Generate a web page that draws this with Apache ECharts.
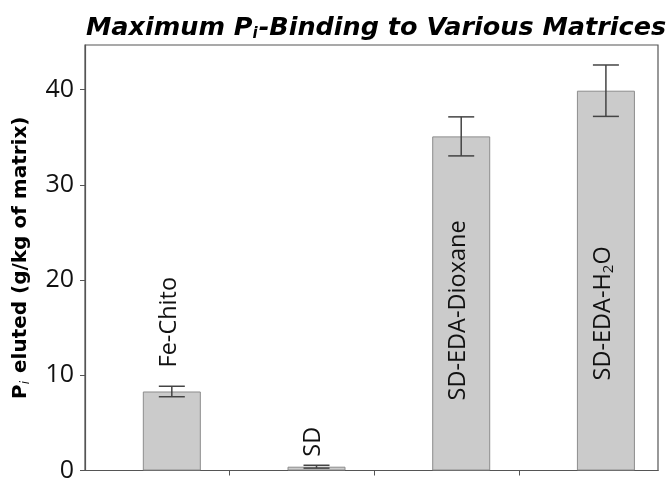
<!DOCTYPE html>
<html><head><meta charset="utf-8">
<script src="https://cdn.jsdelivr.net/npm/echarts@6/dist/echarts.min.js"></script>
<style>html,body{margin:0;padding:0;background:#fff}#c{width:668px;height:483px}</style>
</head><body><div id="c"></div>
<script>
const categories = ['Fe-Chito', 'SD', 'SD-EDA-Dioxane', 'SD-EDA-H2O'];
const labelTexts = ['Fe-Chito', 'SD', 'SD-EDA-Dioxane', 'SD-EDA-H{sub|2}O'];
const values = [8.3, 0.4, 35.1, 39.9];
const errors = [0.55, 0.15, 2.05, 2.7];
const yTicks = [0, 10, 20, 30, 40];
const xTicks = [0.4, 1.4, 2.4];

const FONT = 'DejaVu Sans';
const LFONT = 'Open Sans';
const labelStyle = [
  {position: 'top', distance: 24},
  {position: 'top', distance: 10},
  {position: 'insideBottom', distance: 70},
  {position: 'insideBottom', distance: 90}
];

const chart = echarts.init(document.getElementById('c'), null, {renderer: 'canvas'});
const option = {
  animation: false,
  backgroundColor: '#fff',
  title: {
    text: '{a|Maximum P}{s|i}{a|-Binding to Various Matrices}',
    left: 371, top: 9, textAlign: 'center',
    textStyle: {
      rich: {
        a: {fontFamily: FONT, fontWeight: 'bold', fontStyle: 'italic', fontSize: 25.5, color: '#000'},
        s: {fontFamily: FONT, fontStyle: 'italic', fontSize: 15, color: '#000', padding: [13, 1, 0, 0]}
      }
    }
  },
  grid: {left: 85, right: 10, top: 45, bottom: 9, show: true, borderColor: '#555', borderWidth: 1.2},
  xAxis: {
    type: 'value', min: -0.6, max: 3.36,
    axisLine: {show: true, onZero: false, lineStyle: {color: '#555', width: 1.2}},
    axisTick: {show: true, length: 5, customValues: xTicks, lineStyle: {color: '#555'}},
    axisLabel: {show: false},
    splitLine: {show: false}
  },
  yAxis: {
    type: 'value', min: 0, max: 44.7,
    name: '{b|P}{s|i}{b| eluted (g/kg of matrix)}',
    nameLocation: 'middle', nameGap: 53, nameRotate: 90,
    nameTextStyle: {
      rich: {
        b: {fontFamily: FONT, fontWeight: 'bold', fontSize: 20, color: '#000'},
        s: {fontFamily: FONT, fontStyle: 'italic', fontSize: 12, color: '#000', padding: [10, 1, 0, 0]}
      }
    },
    axisLine: {show: true, onZero: false, lineStyle: {color: '#555', width: 1.2}},
    axisTick: {show: true, length: 5, customValues: yTicks, lineStyle: {color: '#555'}},
    axisLabel: {customValues: yTicks, fontFamily: LFONT, fontSize: 25, color: '#111', margin: 11},
    splitLine: {show: false}
  },
  series: [
    {
      type: 'bar',
      barWidth: 58,
      itemStyle: {color: '#cbcbcb', borderColor: '#8c8c8c', borderWidth: 1},
      data: values.map((v, i) => ({
        value: [i, v],
        label: {
          show: true,
          position: labelStyle[i].position,
          distance: labelStyle[i].distance,
          rotate: 90,
          align: 'left',
          verticalAlign: 'middle',
          offset: [0, -3],
          formatter: labelTexts[i],
          fontFamily: LFONT, fontSize: 23.5, color: '#111',
          rich: {sub: {fontFamily: LFONT, fontSize: 15, color: '#111', padding: [11, 0, 0, 0]}}
        }
      }))
    },
    {
      type: 'custom',
      z: 5,
      data: values.map((v, i) => [i, v - errors[i], v + errors[i]]),
      renderItem: function (params, api) {
        const x = api.value(0);
        const lo = api.coord([x, api.value(1)]);
        const hi = api.coord([x, api.value(2)]);
        const hw = 13;
        const st = {stroke: '#444', lineWidth: 1.5};
        return {
          type: 'group',
          children: [
            {type: 'line', shape: {x1: lo[0], y1: lo[1], x2: hi[0], y2: hi[1]}, style: st},
            {type: 'line', shape: {x1: lo[0] - hw, y1: lo[1], x2: lo[0] + hw, y2: lo[1]}, style: st},
            {type: 'line', shape: {x1: hi[0] - hw, y1: hi[1], x2: hi[0] + hw, y2: hi[1]}, style: st}
          ]
        };
      }
    }
  ]
};
chart.setOption(option);
</script>
</body></html>
